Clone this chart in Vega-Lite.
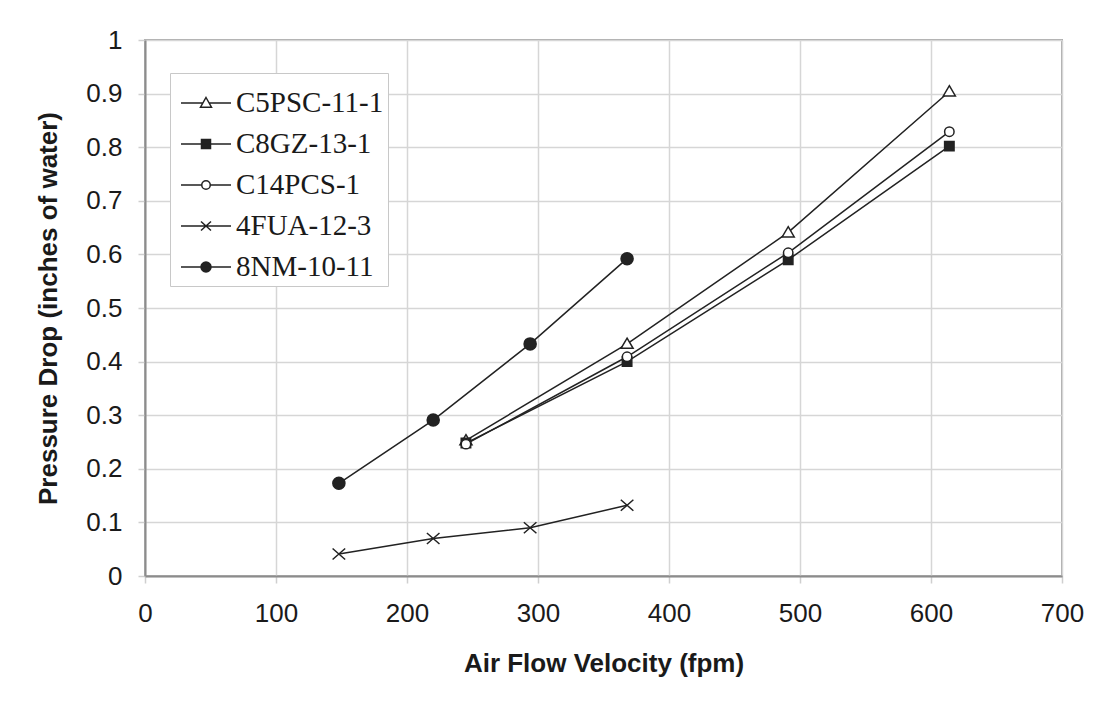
{
  "$schema": "https://vega.github.io/schema/vega-lite/v6.json",
  "autosize": {"type": "none"},
  "width": 917,
  "height": 536,
  "padding": {"left": 145, "top": 40, "right": 50, "bottom": 130},
  "background": "white",
  "config": {
    "view": {"stroke": "#a8a8a8", "strokeWidth": 2},
    "axis": {
      "labelFont": "Liberation Sans",
      "labelFontSize": 26,
      "labelColor": "#1a1a1a",
      "titleFont": "Liberation Sans",
      "titleFontSize": 26,
      "titleFontWeight": "bold",
      "titleColor": "#1a1a1a",
      "gridColor": "#d6d6d6",
      "gridWidth": 1.5,
      "tickColor": "#cfcfcf",
      "tickWidth": 1.5,
      "tickSize": 7,
      "domainColor": "#8c8c8c",
      "domainWidth": 2
    }
  },
  "data": {
    "values": [
      {"series": "C5PSC-11-1", "v": 245, "p": 0.253},
      {"series": "C5PSC-11-1", "v": 368, "p": 0.433},
      {"series": "C5PSC-11-1", "v": 491, "p": 0.641},
      {"series": "C5PSC-11-1", "v": 614, "p": 0.904},
      {"series": "C8GZ-13-1", "v": 245, "p": 0.248},
      {"series": "C8GZ-13-1", "v": 368, "p": 0.400},
      {"series": "C8GZ-13-1", "v": 491, "p": 0.590},
      {"series": "C8GZ-13-1", "v": 614, "p": 0.802},
      {"series": "C14PCS-1", "v": 245, "p": 0.246},
      {"series": "C14PCS-1", "v": 368, "p": 0.409},
      {"series": "C14PCS-1", "v": 491, "p": 0.603},
      {"series": "C14PCS-1", "v": 614, "p": 0.829},
      {"series": "4FUA-12-3", "v": 148, "p": 0.041},
      {"series": "4FUA-12-3", "v": 220, "p": 0.070},
      {"series": "4FUA-12-3", "v": 294, "p": 0.090},
      {"series": "4FUA-12-3", "v": 368, "p": 0.132},
      {"series": "8NM-10-11", "v": 148, "p": 0.173},
      {"series": "8NM-10-11", "v": 220, "p": 0.291},
      {"series": "8NM-10-11", "v": 294, "p": 0.433},
      {"series": "8NM-10-11", "v": 368, "p": 0.592}
    ]
  },
  "encoding": {
    "x": {
      "field": "v", "type": "quantitative",
      "scale": {"domain": [0, 700], "nice": false, "zero": false},
      "axis": {"values": [0, 100, 200, 300, 400, 500, 600, 700], "labelPadding": 17, "title": "Air Flow Velocity (fpm)", "titlePadding": 24, "labelFlush": false}
    },
    "y": {
      "field": "p", "type": "quantitative",
      "scale": {"domain": [0, 1], "nice": false},
      "axis": {"values": [0, 0.1, 0.2, 0.3, 0.4, 0.5, 0.6, 0.7, 0.8, 0.9, 1], "format": ".1~f", "labelPadding": 16, "title": "Pressure Drop (inches of water)", "titlePadding": 24, "labelFlush": false}
    }
  },
  "layer": [
    {
      "mark": {"type": "line", "color": "#222222", "strokeWidth": 1.5},
      "encoding": {
        "detail": {"field": "series", "type": "nominal"},
        "order": {"field": "v", "type": "quantitative"}
      }
    },
    {
      "mark": {"type": "point", "filled": true, "stroke": "#222222", "strokeWidth": 1.5, "opacity": 1, "size": 110},
      "encoding": {
        "shape": {
          "field": "series", "type": "nominal",
          "scale": {
            "domain": ["4FUA-12-3", "8NM-10-11", "C14PCS-1", "C5PSC-11-1", "C8GZ-13-1"],
            "range": [
              "M-1.2,-1.05L1.2,1.05M-1.2,1.05L1.2,-1.05",
              "M1.15,0A1.15,1.15,0,1,1,-1.15,0A1.15,1.15,0,1,1,1.15,0Z",
              "M0.9,0A0.9,0.9,0,1,1,-0.9,0A0.9,0.9,0,1,1,0.9,0Z",
              "M0,-1.1L1.15,0.85L-1.15,0.85Z",
              "M-0.9,-0.9H0.9V0.9H-0.9Z"
            ]
          },
          "legend": null
        },
        "fill": {
          "field": "series", "type": "nominal",
          "scale": {
            "domain": ["C5PSC-11-1", "C8GZ-13-1", "C14PCS-1", "4FUA-12-3", "8NM-10-11"],
            "range": ["white", "#222222", "white", "#222222", "#222222"]
          },
          "legend": {
            "title": null,
            "orient": "none",
            "legendX": 25,
            "legendY": 33,
            "padding": 4,
            "fillColor": "white",
            "strokeColor": "#c8c8c8",
            "labelFont": "Liberation Serif",
            "labelFontSize": 29,
            "labelColor": "#1a1a1a",
            "labelOffset": 4,
            "symbolSize": 2500,
            "symbolStrokeWidth": 1.5,
            "symbolStrokeColor": "#222222",
            "rowPadding": 0,
            "symbolOffset": 6,
            "encoding": {
              "symbols": {
                "size": {"value": 2500},
                "stroke": {"value": "#222222"},
                "strokeWidth": {"value": 1.5},
                "opacity": {"value": 1},
                "shape": {"value": {"signal": "datum.value === 'C5PSC-11-1' ? 'M-1,0H-0.12M0.12,0H1M0,-0.22L0.22,0.17H-0.22Z' : datum.value === 'C8GZ-13-1' ? 'M-1,0H1M-0.18,-0.18H0.18V0.18H-0.18Z' : datum.value === 'C14PCS-1' ? 'M-1,0H-0.17M0.17,0H1M0.17,0A0.17,0.17,0,1,1,-0.17,0A0.17,0.17,0,1,1,0.17,0Z' : datum.value === '4FUA-12-3' ? 'M-1,0H1M-0.2,-0.18L0.2,0.18M-0.2,0.18L0.2,-0.18' : 'M-1,0H1M0.2,0A0.2,0.2,0,1,1,-0.2,0A0.2,0.2,0,1,1,0.2,0Z'"}}
              }
            }
          }
        }
      }
    }
  ]
}
